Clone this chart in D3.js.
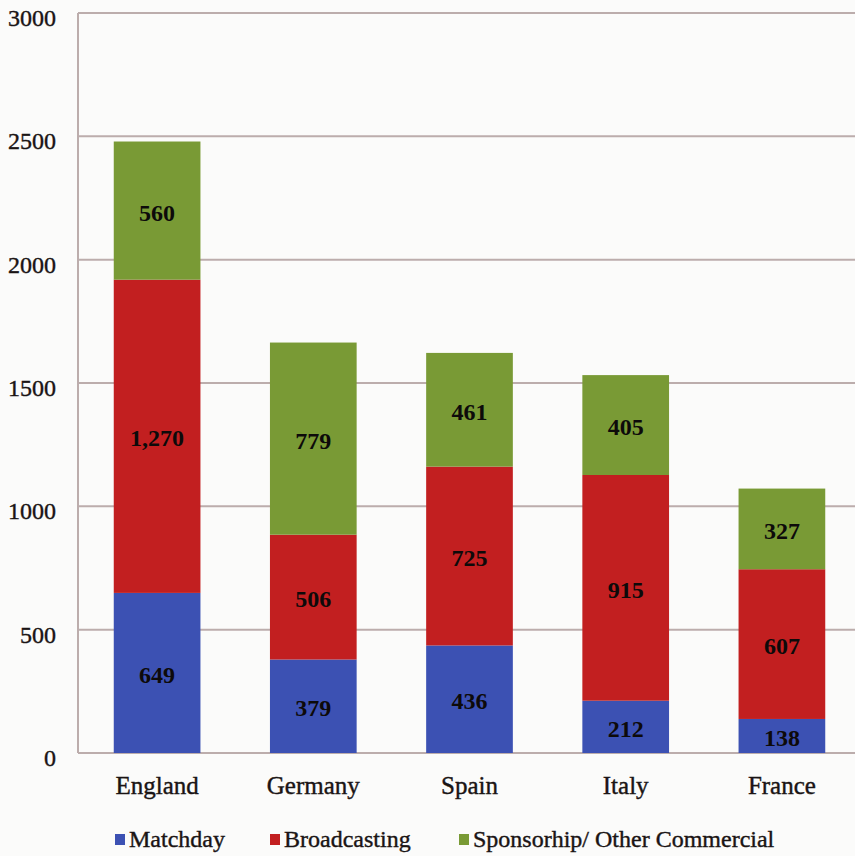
<!DOCTYPE html>
<html>
<head>
<meta charset="utf-8">
<script src="https://cdn.jsdelivr.net/npm/d3@7"></script>
<style>
  html, body { margin: 0; padding: 0; background: #fbfbfa; }
  svg { display: block; }
  svg text { font-family: "Liberation Serif", "DejaVu Serif", serif; }
  svg text.plain { stroke: #1a1414; stroke-width: 0.4px; }
</style>
</head>
<body>
<svg id="chart" width="855" height="856"></svg>
<script>
// Club revenue by source, per country (€ millions)
const countries = ["England", "Germany", "Spain", "Italy", "France"];
const matchday = [649, 379, 436, 212, 138];
const broadcasting = [1270, 506, 725, 915, 607];
const sponsorship = [560, 779, 461, 405, 327];
const seriesNames = ["Matchday", "Broadcasting", "Sponsorhip/ Other Commercial"];
const seriesColors = ["#3c51b3", "#c21f20", "#799a35"];
const yTicks = [0, 500, 1000, 1500, 2000, 2500, 3000];

const rows = countries.map((c, i) => ({
  country: c,
  Matchday: matchday[i],
  Broadcasting: broadcasting[i],
  "Sponsorhip/ Other Commercial": sponsorship[i]
}));

const svg = d3.select("#chart");

const x = d3.scaleBand().domain(countries).range([79, 860])
  .paddingInner(0.445).paddingOuter(0.2225);
const y = d3.scaleLinear().domain([0, 3000]).range([753, 13]);

const gridColor = "#bcadac";
const textColor = "#1a1414";

// horizontal gridlines
svg.append("g").selectAll("line").data(yTicks).join("line")
  .attr("x1", 78).attr("x2", 860)
  .attr("y1", d => y(d)).attr("y2", d => y(d))
  .attr("stroke", gridColor).attr("stroke-width", 2);

// left axis line
svg.append("line")
  .attr("x1", 78).attr("x2", 78)
  .attr("y1", y(3000)).attr("y2", y(0))
  .attr("stroke", gridColor).attr("stroke-width", 2);

// y tick labels
svg.append("g").selectAll("text").data(yTicks).join("text")
  .attr("class", "plain")
  .attr("x", 56).attr("y", d => y(d) + 5)
  .attr("text-anchor", "end").attr("dominant-baseline", "central")
  .attr("font-size", 24).attr("fill", textColor)
  .text(d => d);

// stacked bars
const stack = d3.stack().keys(seriesNames)(rows);
const layers = svg.append("g").selectAll("g").data(stack).join("g")
  .attr("fill", (d, i) => seriesColors[i]);

layers.selectAll("rect").data(d => d).join("rect")
  .attr("x", d => x(d.data.country))
  .attr("width", x.bandwidth())
  .attr("y", d => y(d[1]))
  .attr("height", d => y(d[0]) - y(d[1]));

// value labels
const fmt = d3.format(",");
layers.selectAll("text").data(d => d.map(p => ({ p, key: d.key }))).join("text")
  .attr("x", d => x(d.p.data.country) + x.bandwidth() / 2)
  .attr("y", d => (y(d.p[0]) + y(d.p[1])) / 2 + 2)
  .attr("text-anchor", "middle").attr("dominant-baseline", "central")
  .attr("font-weight", "bold").attr("font-size", 24)
  .attr("fill", "#0d0a0a")
  .text(d => fmt(d.p.data[d.key]));

// category labels
svg.append("g").selectAll("text").data(countries).join("text")
  .attr("class", "plain")
  .attr("x", d => x(d) + x.bandwidth() / 2).attr("y", 794)
  .attr("text-anchor", "middle")
  .attr("font-size", 25).attr("fill", textColor)
  .text(d => d);

// legend
const legendX = [115, 270, 459];
const legend = svg.append("g").selectAll("g").data(seriesNames).join("g")
  .attr("transform", (d, i) => `translate(${legendX[i]},847)`);
legend.append("rect")
  .attr("x", 0).attr("y", -13).attr("width", 10).attr("height", 11)
  .attr("fill", (d, i) => seriesColors[i]);
legend.append("text")
  .attr("class", "plain")
  .attr("x", 14).attr("y", 0)
  .attr("font-size", 24).attr("fill", textColor)
  .text(d => d);
</script>
</body>
</html>
